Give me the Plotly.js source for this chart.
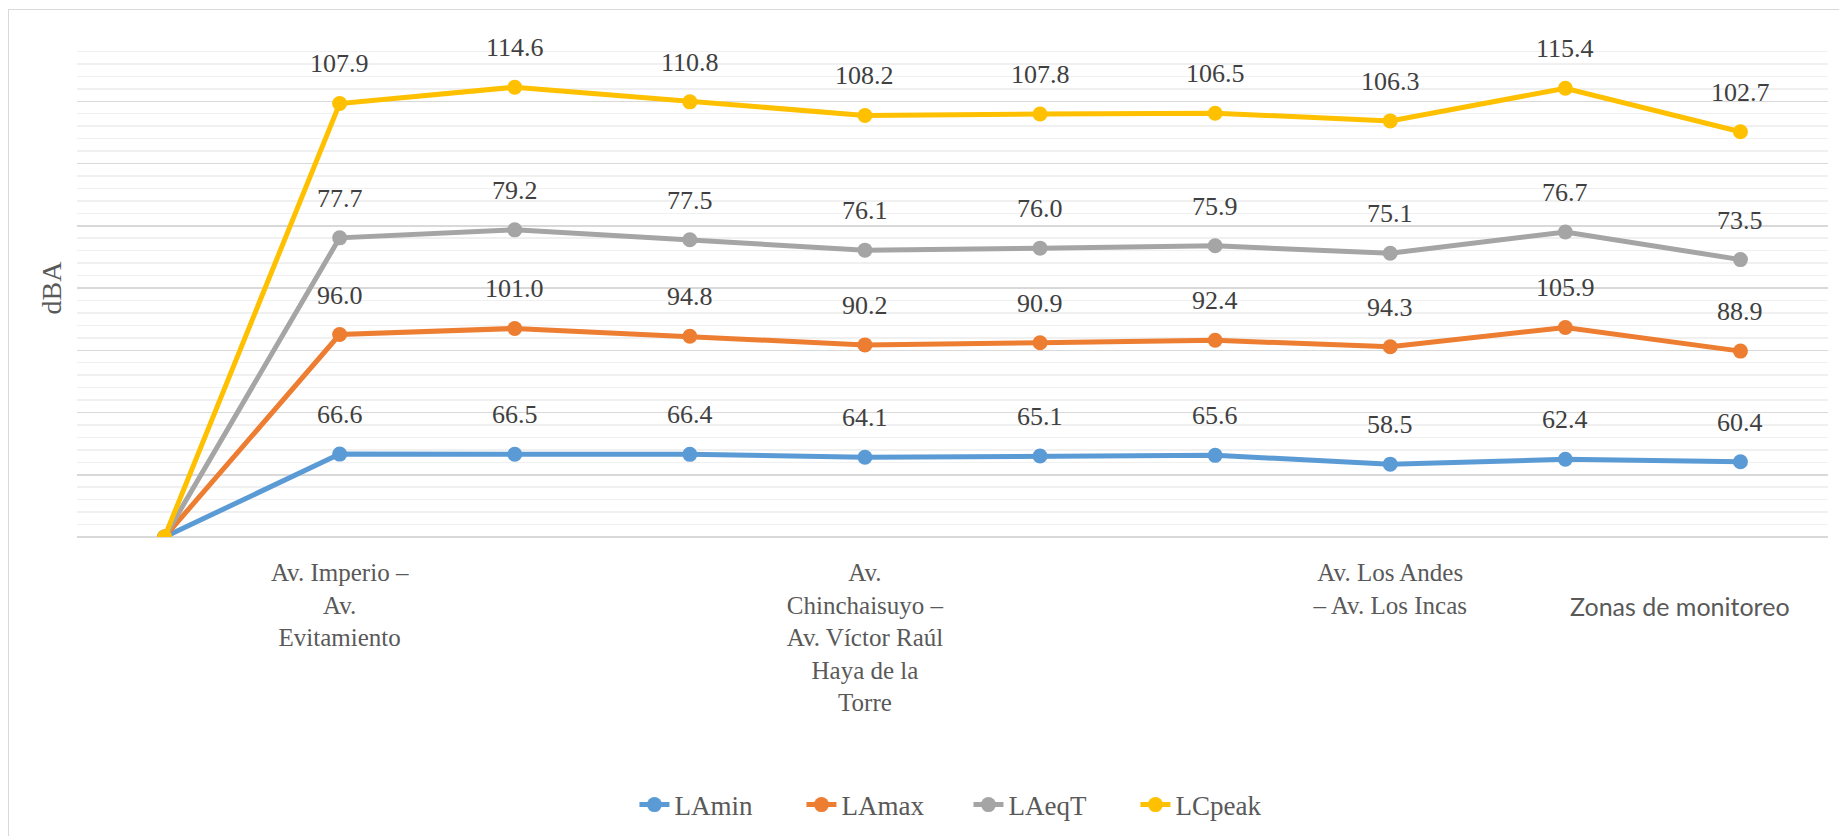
<!DOCTYPE html>
<html>
<head>
<meta charset="utf-8">
<script src="https://cdn.plot.ly/plotly-3.0.1.min.js"></script>
<style>
  html, body { margin: 0; padding: 0; background: #ffffff; overflow: hidden; }
  #chart { width: 1839px; height: 836px; }
  #frame { position: absolute; left: 8px; top: 9px; width: 1900px; height: 1000px;
           border: 1.5px solid #d9d9d9; pointer-events: none; }
</style>
</head>
<body>
<div id="chart"></div>
<div id="frame"></div>
<script>
// Monitoring zones (index 0 is the empty starting point of the series)
const zones = [0, 1, 2, 3, 4, 5, 6, 7, 8, 9];
const zoneLabels = [
  '',
  'Av. Imperio –<br>Av.<br>Evitamiento',
  '', '',
  'Av.<br>Chinchaisuyo –<br>Av. Víctor Raúl<br>Haya de la<br>Torre',
  '', '',
  'Av. Los Andes<br>– Av. Los Incas',
  '', ''
];

// Sound levels in dBA, per zone
const LAmin  = [0, 66.6, 66.5, 66.4, 64.1, 65.1, 65.6, 58.5, 62.4, 60.4];
const LAmax  = [0, 96.0, 101.0, 94.8, 90.2, 90.9, 92.4, 94.3, 105.9, 88.9];
const LAeqT  = [0, 77.7, 79.2, 77.5, 76.1, 76.0, 75.9, 75.1, 76.7, 73.5];
const LCpeak = [0, 107.9, 114.6, 110.8, 108.2, 107.8, 106.5, 106.3, 115.4, 102.7];

const seriesNames  = ['LAmin', 'LAmax', 'LAeqT', 'LCpeak'];
const seriesValues = [LAmin, LAmax, LAeqT, LCpeak];
const seriesColors = ['#5B9BD5', '#ED7D31', '#A5A5A5', '#FFC000'];

const serif = '"Times New Roman", "Liberation Serif", serif';

// Stacked lines with markers
const traces = seriesValues.map((vals, i) => ({
  type: 'scatter',
  x: zones,
  y: vals,
  name: seriesNames[i],
  stackgroup: 'one',
  fill: 'none',
  mode: 'lines+markers',
  line: { color: seriesColors[i], width: 5 },
  marker: { color: seriesColors[i], size: 15 },
  hoverinfo: 'name+y'
}));

// Value labels above each stacked point
const annotations = [];
const running = zones.map(() => 0);
seriesValues.forEach(vals => {
  vals.forEach((v, j) => {
    running[j] += v;
    if (j === 0) return;
    annotations.push({
      x: zones[j], y: running[j], xref: 'x', yref: 'y',
      text: v.toFixed(1), showarrow: false,
      yanchor: 'bottom', yshift: 23,
      font: { family: serif, size: 26, color: '#404040' }
    });
  });
});

// Category axis title, set at the right end under the axis
annotations.push({
  xref: 'paper', yref: 'paper', x: 0.9155, y: -0.1386,
  xanchor: 'center', yanchor: 'middle', showarrow: false,
  text: 'Zonas de monitoreo',
  font: { family: 'Lato', size: 25, color: '#595959' }
});

const layout = {
  width: 1839, height: 836,
  margin: { l: 77, r: 11, t: 39, b: 299 },
  paper_bgcolor: '#ffffff', plot_bgcolor: '#ffffff',
  font: { family: serif, size: 25, color: '#595959' },
  showlegend: true,
  xaxis: {
    range: [-0.5, 9.5],
    tickmode: 'array', tickvals: zones, ticktext: zoneLabels,
    tickfont: { family: serif, size: 25, color: '#595959' },
    ticks: '', ticklabelstandoff: 18,
    showgrid: false, zeroline: false, showline: false, fixedrange: true
  },
  yaxis: {
    range: [0, 400], tick0: 0, dtick: 50,
    showticklabels: false, ticks: '',
    gridcolor: '#d9d9d9', gridwidth: 1.5,
    zeroline: true, zerolinecolor: '#d9d9d9', zerolinewidth: 1.5,
    showline: false,
    minor: { dtick: 10, showgrid: true, gridcolor: '#f0f0f0', gridwidth: 1.5 },
    title: { text: 'dBA', font: { family: serif, size: 28, color: '#595959' }, standoff: 6 },
    fixedrange: true
  },
  legend: {
    orientation: 'h', traceorder: 'normal',
    xref: 'container', yref: 'container',
    x: 0.345, xanchor: 'left', y: 0.037, yanchor: 'middle',
    entrywidth: 122,
    font: { family: serif, size: 27, color: '#595959' },
    bgcolor: 'rgba(0,0,0,0)'
  },
  annotations: annotations
};

Plotly.newPlot('chart', traces, layout, { displayModeBar: false, staticPlot: true });
</script>
</body>
</html>
